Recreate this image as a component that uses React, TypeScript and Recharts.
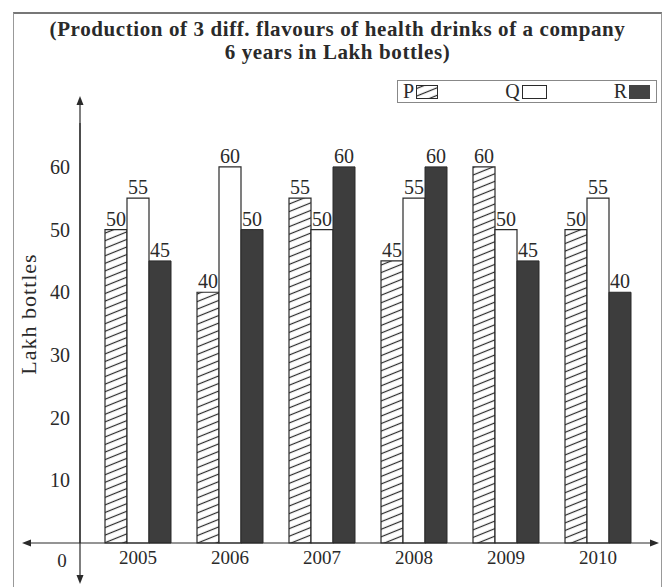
import React from 'react';
import { BarChart, Bar, XAxis, YAxis, LabelList, Legend } from 'recharts';

const years = ['2005', '2006', '2007', '2008', '2009', '2010'];
const pValues = [50, 40, 55, 45, 60, 50];
const qValues = [55, 60, 50, 55, 50, 55];
const rValues = [45, 50, 60, 60, 45, 40];
const yTicks = [10, 20, 30, 40, 50, 60];

const data = years.map((year, i) => ({ year, P: pValues[i], Q: qValues[i], R: rValues[i] }));

const serif = '"Liberation Serif", "DejaVu Serif", serif';
const ink = '#2a2a2a';

function LegendBox({ payload }: any) {
  const swatch = (key: string) => {
    if (key === 'P')
      return (
        <svg width={22} height={14} style={{ display: 'block' }}>
          <rect x={0.5} y={0.5} width={21} height={13} fill="url(#hatchP)" stroke={ink} />
        </svg>
      );
    if (key === 'Q')
      return (
        <svg width={25} height={14} style={{ display: 'block' }}>
          <rect x={0.5} y={0.5} width={24} height={13} fill="#fff" stroke={ink} />
        </svg>
      );
    return (
      <svg width={21} height={14} style={{ display: 'block' }}>
        <rect x={0} y={0} width={21} height={14} fill="#444" />
      </svg>
    );
  };
  return (
    <div
      style={{
        width: 260,
        height: 23,
        border: '1px solid #888',
        display: 'flex',
        alignItems: 'center',
        justifyContent: 'space-between',
        padding: '0 6px 0 5px',
        boxSizing: 'border-box',
        fontFamily: serif,
        fontSize: 20,
        color: ink,
      }}
    >
      {(payload || []).map((item: any) => (
        <div key={item.value} style={{ display: 'flex', alignItems: 'center', gap: 2 }}>
          <span>{item.value}</span>
          {swatch(item.value)}
        </div>
      ))}
    </div>
  );
}

export default function App() {
  return (
    <div
      style={{
        position: 'absolute',
        left: 0,
        top: 0,
        width: 665,
        height: 587,
        background: '#fff',
        overflow: 'hidden',
        fontFamily: serif,
      }}
    >
      <style>{`.recharts-wrapper text { font-family: ${serif} !important; }`}</style>
      <div
        style={{
          position: 'absolute',
          left: 13,
          top: 12,
          width: 649,
          height: 590,
          border: '1px solid #999',
          borderTop: '2px solid #777',
          boxSizing: 'border-box',
        }}
      />
      <div
        style={{
          position: 'absolute',
          left: 13,
          top: 18,
          width: 649,
          textAlign: 'center',
          fontWeight: 'bold',
          fontSize: 21,
          letterSpacing: 0.6,
          lineHeight: '23px',
          color: ink,
        }}
      >
        (Production of 3 diff. flavours of health drinks of a company
        <br />6 years in Lakh bottles)
      </div>
      <BarChart
        width={665}
        height={587}
        data={data}
        margin={{ top: 100, right: 9, bottom: 14, left: 40 }}
        barGap={0}
        barSize={22}
        style={{ position: 'absolute', left: 0, top: 0 }}
      >
        <defs>
          <pattern id="hatchP" patternUnits="userSpaceOnUse" width={10} height={7} patternTransform="rotate(-22)">
            <rect width={10} height={7} fill="#fff" />
            <line x1={0} y1={3.5} x2={10} y2={3.5} stroke={ink} strokeWidth={1.2} />
          </pattern>
        </defs>
        <XAxis
          dataKey="year"
          height={30}
          tickSize={0}
          tickMargin={8}
          padding={{ left: 12, right: 12 }}
          axisLine={{ stroke: ink, strokeWidth: 1.2 }}
          tick={{ fill: ink, fontSize: 19 }}
        />
        <YAxis
          width={40}
          domain={[0, 67]}
          ticks={yTicks}
          tickSize={0}
          tickMargin={10}
          axisLine={{ stroke: ink, strokeWidth: 1.2 }}
          tick={{ fill: ink, fontSize: 20 }}
        />
        <Legend
          verticalAlign="top"
          content={<LegendBox />}
          wrapperStyle={{ position: 'absolute', left: 397, top: 80, width: 262 }}
        />
        <Bar dataKey="P" fill="url(#hatchP)" stroke={ink} strokeWidth={1.2} isAnimationActive={false}>
          <LabelList dataKey="P" position="top" offset={4} fill={ink} fontSize={20} />
        </Bar>
        <Bar dataKey="Q" fill="#fff" stroke={ink} strokeWidth={1.2} isAnimationActive={false}>
          <LabelList dataKey="Q" position="top" offset={4} fill={ink} fontSize={20} />
        </Bar>
        <Bar dataKey="R" fill="#3d3d3d" stroke="#2a2a2a" strokeWidth={1} isAnimationActive={false}>
          <LabelList dataKey="R" position="top" offset={4} fill={ink} fontSize={20} />
        </Bar>
      </BarChart>
      <svg width={665} height={587} style={{ position: 'absolute', left: 0, top: 0, pointerEvents: 'none' }}>
        <g stroke={ink} strokeWidth={1.2} fill={ink}>
          <line x1={25} y1={543} x2={80} y2={543} />
          <line x1={80} y1={100} x2={80} y2={580} />
          <path d="M22 543 L31 539.5 L31 546.5 Z" stroke="none" />
          <path d="M659 543 L650 539.5 L650 546.5 Z" stroke="none" />
          <path d="M80 96 L76.5 105 L83.5 105 Z" stroke="none" />
          <path d="M80 584 L76.5 575 L83.5 575 Z" stroke="none" />
        </g>
        <text x={62} y={567} textAnchor="middle" fill={ink} fontSize={19}>
          0
        </text>
        <text
          x={31}
          y={314}
          transform="rotate(-90 31 314)"
          textAnchor="middle"
          dominantBaseline="middle"
          fill={ink}
          fontSize={22}
          letterSpacing={1}
        >
          Lakh bottles
        </text>
      </svg>
    </div>
  );
}
